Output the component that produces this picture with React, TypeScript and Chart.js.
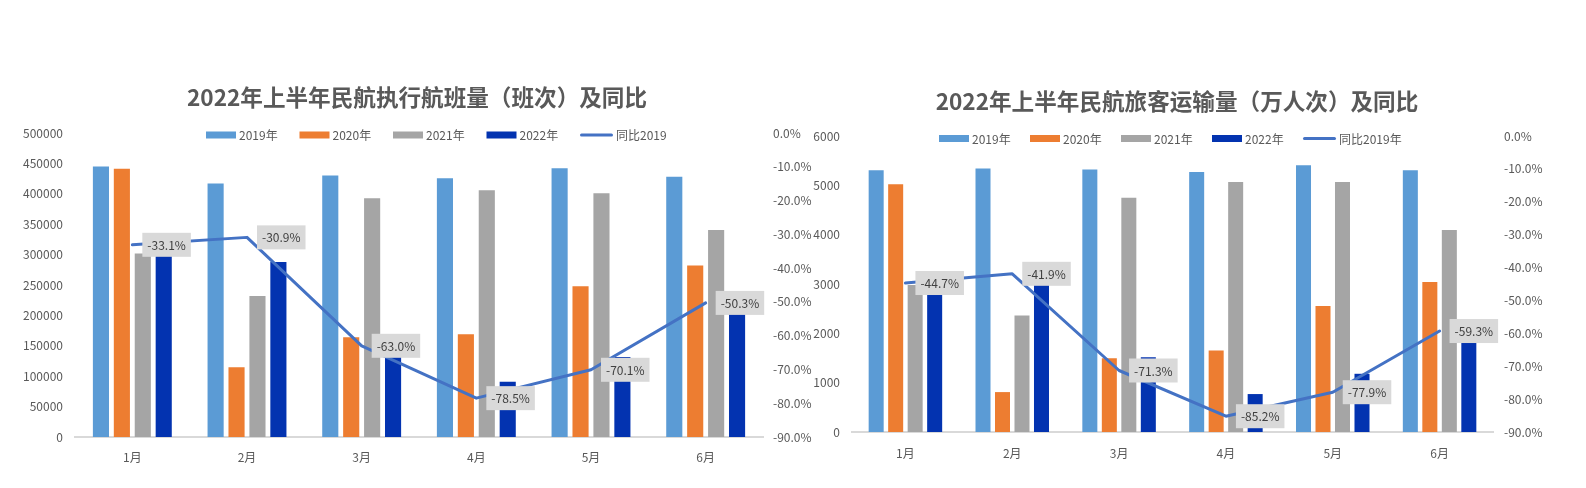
import React, { useEffect, useRef } from 'react';
import { Chart, registerables } from 'chart.js';

Chart.register(...registerables);

const FONT = '"Noto Sans CJK SC", "Noto Sans", sans-serif';

// ---------- data ----------
const months = ['1月', '2月', '3月', '4月', '5月', '6月'];

const flightTitle = '2022年上半年民航执行航班量（班次）及同比';
const flights2019 = [445000, 417000, 430000, 425500, 442000, 428000];
const flights2020 = [441000, 114700, 164000, 169000, 248000, 282000];
const flights2021 = [302000, 232000, 392600, 406000, 401000, 340500];
const flights2022 = [297700, 288000, 159000, 91000, 131500, 212700];
const flightsYoY = [-33.1, -30.9, -63.0, -78.5, -70.1, -50.3];

const paxTitle = '2022年上半年民航旅客运输量（万人次）及同比';
const pax2019 = [5306, 5341, 5321, 5272, 5408, 5306];
const pax2020 = [5023, 809, 1497, 1651, 2555, 3041];
const pax2021 = [2980, 2359, 4746, 5070, 5070, 4093];
const pax2022 = [2934, 3103, 1517, 769, 1180, 2160];
const paxYoY = [-44.7, -41.9, -71.3, -85.2, -77.9, -59.3];

const barLabels = ['2019年', '2020年', '2021年', '2022年'];
const flightLineLabel = '同比2019';
const paxLineLabel = '同比2019年';

const COLORS = ['#5B9BD5', '#ED7D31', '#A5A5A5', '#0333B0'];
const LINE_COLOR = '#4472C4';
const TEXT = '#595959';

type Layout = {
  left: number;
  width: number;
  height: number;
  padTop: number;
  yWidth: number;
  y1Width: number;
  xHeight: number;
  xPad: number;
  yPad: number;
  y1Pad: number;
  titleX: number;
  titleY: number;
  legendX: number;
  legendY: number;
  legendStep: number;
};

function makeOverlay(key: string, title: string, legendNames: string[], lay: Layout) {
  return {
    id: 'overlay_' + key,
    afterDatasetsDraw(chart: any) {
      const ctx = chart.ctx as CanvasRenderingContext2D;
      const meta = chart.getDatasetMeta(0);
      const data = chart.data.datasets[0].data as number[];
      ctx.save();
      ctx.font = `12px ${FONT}`;
      ctx.textBaseline = 'middle';
      ctx.textAlign = 'left';
      meta.data.forEach((pt: any, i: number) => {
        const text = data[i].toFixed(1) + '%';
        const w = ctx.measureText(text).width + 10;
        const bx = pt.x + 10;
        const by = pt.y - 12;
        ctx.fillStyle = '#D9D9D9';
        ctx.fillRect(bx, by, w, 24);
        ctx.fillStyle = '#404040';
        ctx.fillText(text, bx + 5, pt.y + 0.5);
      });
      ctx.restore();
    },
    afterDraw(chart: any) {
      const ctx = chart.ctx as CanvasRenderingContext2D;
      ctx.save();
      // title
      ctx.font = `bold 22.6px ${FONT}`;
      ctx.fillStyle = TEXT;
      ctx.textAlign = 'center';
      ctx.textBaseline = 'middle';
      ctx.fillText(title, lay.titleX, lay.titleY);
      // legend
      ctx.font = `12px ${FONT}`;
      ctx.textAlign = 'left';
      legendNames.forEach((name, i) => {
        const x = lay.legendX + i * lay.legendStep;
        const y = lay.legendY;
        let bw = 30;
        if (i < 4) {
          ctx.fillStyle = COLORS[i];
          ctx.fillRect(x, y - 3.5, 30, 7);
        } else {
          bw = 33;
          ctx.strokeStyle = LINE_COLOR;
          ctx.lineWidth = 3;
          ctx.lineCap = 'round';
          ctx.beginPath();
          ctx.moveTo(x + 1.5, y);
          ctx.lineTo(x + bw - 1.5, y);
          ctx.stroke();
        }
        ctx.fillStyle = TEXT;
        ctx.fillText(name, x + bw + 3, y + 0.5);
      });
      ctx.restore();
    },
  };
}

type Props = {
  id: string;
  title: string;
  bars: number[][];
  line: number[];
  lineLabel: string;
  yMax: number;
  yStep: number;
  lay: Layout;
};

function ComboChart({ id, title, bars, line, lineLabel, yMax, yStep, lay }: Props) {
  const ref = useRef<HTMLCanvasElement | null>(null);

  useEffect(() => {
    if (!ref.current) return;
    const tickFont = { family: FONT, size: 12 };
    const chart = new Chart(ref.current, {
      type: 'bar',
      data: {
        labels: months,
        datasets: [
          {
            type: 'line',
            label: lineLabel,
            data: line,
            yAxisID: 'y1',
            borderColor: LINE_COLOR,
            backgroundColor: LINE_COLOR,
            borderWidth: 3,
            pointRadius: 0,
            tension: 0,
            borderCapStyle: 'round',
            borderJoinStyle: 'round',
            order: 0,
          } as any,
          ...bars.map((d, i) => ({
            type: 'bar' as const,
            label: barLabels[i],
            data: d,
            yAxisID: 'y',
            backgroundColor: COLORS[i],
            categoryPercentage: 0.73,
            barPercentage: 0.77,
            order: 1,
          })),
        ],
      },
      options: {
        animation: false,
        responsive: false,
        events: [],
        layout: { padding: { top: lay.padTop, left: 0, right: 0, bottom: 0 } },
        plugins: {
          legend: { display: false },
          title: { display: false },
          tooltip: { enabled: false },
        },
        scales: {
          x: {
            grid: { display: false, drawTicks: false },
            border: { display: true, color: '#D9D9D9', width: 2 },
            ticks: { color: TEXT, font: tickFont, padding: lay.xPad },
            afterFit: (s: any) => {
              s.height = lay.xHeight;
            },
          },
          y: {
            position: 'left',
            min: 0,
            max: yMax,
            grid: { display: false, drawTicks: false },
            border: { display: false },
            ticks: {
              stepSize: yStep,
              color: TEXT,
              font: tickFont,
              padding: lay.yPad,
              callback: (v: any) => String(v),
            },
            afterFit: (s: any) => {
              s.width = lay.yWidth;
            },
          },
          y1: {
            position: 'right',
            min: -90,
            max: 0,
            grid: { display: false, drawTicks: false },
            border: { display: false },
            ticks: {
              stepSize: 10,
              color: TEXT,
              font: tickFont,
              padding: lay.y1Pad,
              callback: (v: any) => Number(v).toFixed(1) + '%',
            },
            afterFit: (s: any) => {
              s.width = lay.y1Width;
            },
          },
        },
      } as any,
      plugins: [makeOverlay(id, title, [...barLabels, lineLabel], lay)],
    });
    return () => chart.destroy();
  }, []);

  return (
    <canvas
      ref={ref}
      width={lay.width}
      height={lay.height}
      style={{
        position: 'absolute',
        left: lay.left,
        top: 0,
        width: lay.width,
        height: lay.height,
        display: 'block',
      }}
    />
  );
}

const leftLayout: Layout = {
  left: 0,
  width: 830,
  height: 488,
  padTop: 133,
  yWidth: 75,
  y1Width: 67,
  xHeight: 51,
  xPad: 13,
  yPad: 12,
  y1Pad: 10,
  titleX: 417,
  titleY: 97,
  legendX: 206,
  legendY: 135,
  legendStep: 93.5,
};

const rightLayout: Layout = {
  left: 800,
  width: 786,
  height: 488,
  padTop: 136,
  yWidth: 52,
  y1Width: 93,
  xHeight: 56,
  xPad: 14,
  yPad: 12,
  y1Pad: 11,
  titleX: 377,
  titleY: 101,
  legendX: 139,
  legendY: 138.5,
  legendStep: 91,
};

export default function App() {
  return (
    <div
      style={{
        position: 'absolute',
        left: 0,
        top: 0,
        width: 1586,
        height: 488,
        background: '#ffffff',
        overflow: 'hidden',
      }}
    >
      <ComboChart
        id="flights"
        title={flightTitle}
        bars={[flights2019, flights2020, flights2021, flights2022]}
        line={flightsYoY}
        lineLabel={flightLineLabel}
        yMax={500000}
        yStep={50000}
        lay={leftLayout}
      />
      <ComboChart
        id="pax"
        title={paxTitle}
        bars={[pax2019, pax2020, pax2021, pax2022]}
        line={paxYoY}
        lineLabel={paxLineLabel}
        yMax={6000}
        yStep={1000}
        lay={rightLayout}
      />
    </div>
  );
}
